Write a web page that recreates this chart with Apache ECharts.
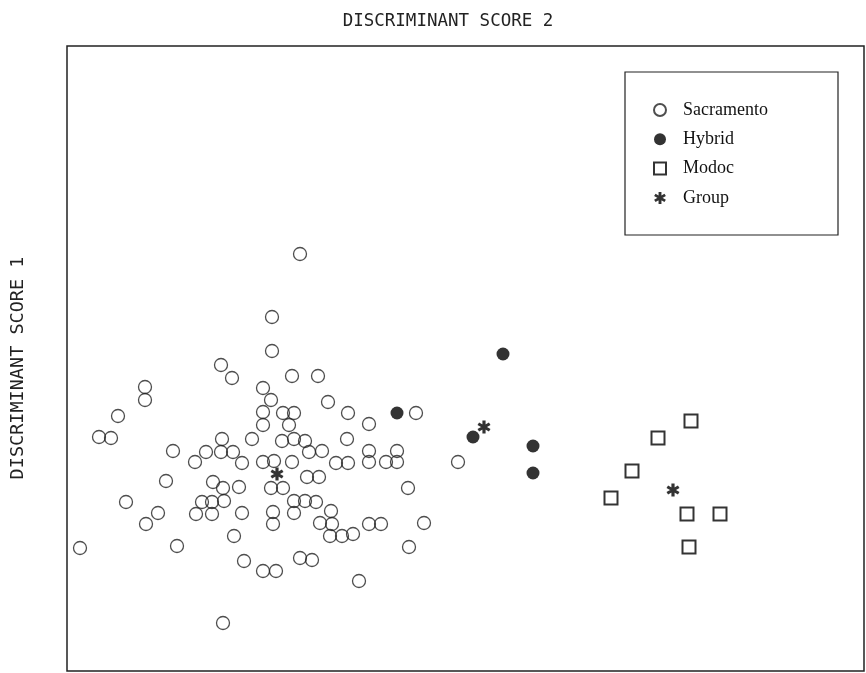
<!DOCTYPE html>
<html>
<head>
<meta charset="utf-8">
<script src="https://cdn.jsdelivr.net/npm/echarts@6/dist/echarts.min.js"></script>
<style>
  html, body { margin: 0; background: #fff; }
  #chart { width: 866px; height: 673px; }
</style>
</head>
<body>
<div id="chart"></div>
<script>
// discriminant scores (arbitrary units, score 2 across, score 1 up)
const sacramento = [
  [23.3, 41.7], [20.5, 35.4], [20.5, 32.0], [15.4, 30.6], [16.5, 29.3], [22.5, 29.5],
  [25.1, 29.5], [7.8, 28.4], [7.8, 27.1], [19.6, 28.3], [20.4, 27.1], [26.1, 26.9],
  [5.1, 25.5], [19.6, 25.9], [21.6, 25.8], [22.7, 25.8], [28.1, 25.8], [34.9, 25.8],
  [30.2, 24.7], [19.6, 24.6], [22.2, 24.6], [3.2, 23.4], [4.4, 23.3], [15.5, 23.2],
  [18.5, 23.2], [21.5, 23.0], [22.7, 23.2], [23.8, 23.0], [28.0, 23.2], [10.6, 22.0],
  [13.9, 21.9], [15.4, 21.9], [16.6, 21.9], [24.2, 21.9], [25.5, 22.0], [30.2, 22.0],
  [33.0, 22.0], [12.8, 20.9], [17.5, 20.8], [19.6, 20.9], [20.7, 21.0], [22.5, 20.9],
  [26.9, 20.8], [28.1, 20.8], [30.2, 20.9], [31.9, 20.9], [33.0, 20.9], [39.1, 20.9],
  [9.9, 19.0], [14.6, 18.9], [24.0, 19.4], [25.2, 19.4], [15.6, 18.3], [17.2, 18.4],
  [20.4, 18.3], [21.6, 18.3], [34.1, 18.3], [5.9, 16.9], [13.5, 16.9], [14.5, 16.9],
  [15.7, 17.0], [22.7, 17.0], [23.8, 17.0], [24.9, 16.9], [9.1, 15.8], [12.9, 15.7],
  [14.5, 15.7], [17.5, 15.8], [20.6, 15.9], [22.7, 15.8], [26.4, 16.0], [7.9, 14.7],
  [20.6, 14.7], [25.3, 14.8], [26.5, 14.7], [30.2, 14.7], [31.4, 14.7], [35.7, 14.8],
  [16.7, 13.5], [26.3, 13.5], [27.5, 13.5], [28.6, 13.7], [1.3, 12.3], [11.0, 12.5],
  [34.2, 12.4], [17.7, 11.0], [23.3, 11.3], [24.5, 11.1], [19.6, 10.0], [20.9, 10.0],
  [29.2, 9.0], [15.6, 4.8]
];
const hybrid = [[33.0, 25.8], [43.6, 31.7], [40.6, 23.4], [46.6, 22.5], [46.6, 19.8]];
const modoc = [[62.4, 25.0], [59.1, 23.3], [56.5, 20.0], [54.4, 17.3], [62.0, 15.7], [65.3, 15.7], [62.2, 12.4]];
const groupMeans = [[21.0, 19.7], [41.7, 24.4], [60.6, 18.1]];

const xRange = [0, 79.7];
const yRange = [0, 62.5];

const STAR = "path://M-12,-50L12,-50L12,50L-12,50Z M37,-35L49,-15L-37,35L-49,15Z M-49,-15L-37,-35L49,15L37,35Z";

const chart = echarts.init(document.getElementById("chart"), null, { renderer: "canvas" });

const hidden = {
  axisLine: { show: false },
  axisTick: { show: false },
  axisLabel: { show: false },
  splitLine: { show: false },
};

chart.setOption({
  animation: false,
  backgroundColor: "#fff",
  grid: {
    left: 67, top: 46, right: 2, bottom: 2,
    show: true, borderColor: "#222", borderWidth: 1.5, backgroundColor: "transparent",
  },
  xAxis: Object.assign({ type: "value", min: xRange[0], max: xRange[1] }, hidden),
  yAxis: Object.assign({ type: "value", min: yRange[0], max: yRange[1] }, hidden),
  legend: {
    orient: "vertical",
    left: 653,
    top: 101,
    padding: 0,
    itemWidth: 12,
    itemHeight: 12,
    itemGap: 11.3,
    textStyle: {
      fontFamily: "Liberation Serif",
      fontSize: 18,
      lineHeight: 18,
      color: "#111",
      padding: [0, 0, 0, 12],
    },
    data: [
      { name: "Sacramento", icon: "circle" },
      { name: "Hybrid", icon: "circle" },
      { name: "Modoc", icon: "rect" },
      { name: "Group", icon: STAR },
    ],
  },
  graphic: [
    {
      type: "rect",
      shape: { x: 625, y: 72, width: 213, height: 163 },
      style: { fill: "transparent", stroke: "#222", lineWidth: 1.2 },
      silent: true,
    },
    {
      type: "text",
      x: 448, y: 21,
      style: {
        text: "DISCRIMINANT SCORE 2",
        fontFamily: "DejaVu Sans Mono",
        fontSize: 17.5,
        fill: "#222",
        align: "center",
        verticalAlign: "middle",
      },
    },
    {
      type: "text",
      x: 18, y: 368,
      rotation: Math.PI / 2,
      style: {
        text: "DISCRIMINANT SCORE 1",
        fontFamily: "DejaVu Sans Mono",
        fontSize: 18.5,
        fill: "#222",
        align: "center",
        verticalAlign: "middle",
      },
    },
  ],
  series: [
    {
      name: "Sacramento",
      type: "scatter",
      data: sacramento,
      symbol: "circle",
      symbolSize: 13,
      itemStyle: { color: "rgba(255,255,255,0)", borderColor: "#222", borderWidth: 1.3 },
    },
    {
      name: "Hybrid",
      type: "scatter",
      data: hybrid,
      symbol: "circle",
      symbolSize: 13,
      itemStyle: { color: "#000" },
    },
    {
      name: "Modoc",
      type: "scatter",
      data: modoc,
      symbol: "rect",
      symbolSize: 13,
      itemStyle: { color: "#fff", borderColor: "#000", borderWidth: 2 },
    },
    {
      name: "Group",
      type: "scatter",
      data: groupMeans,
      symbol: STAR,
      symbolSize: 13,
      itemStyle: { color: "#000" },
    },
  ],
});
</script>
</body>
</html>
